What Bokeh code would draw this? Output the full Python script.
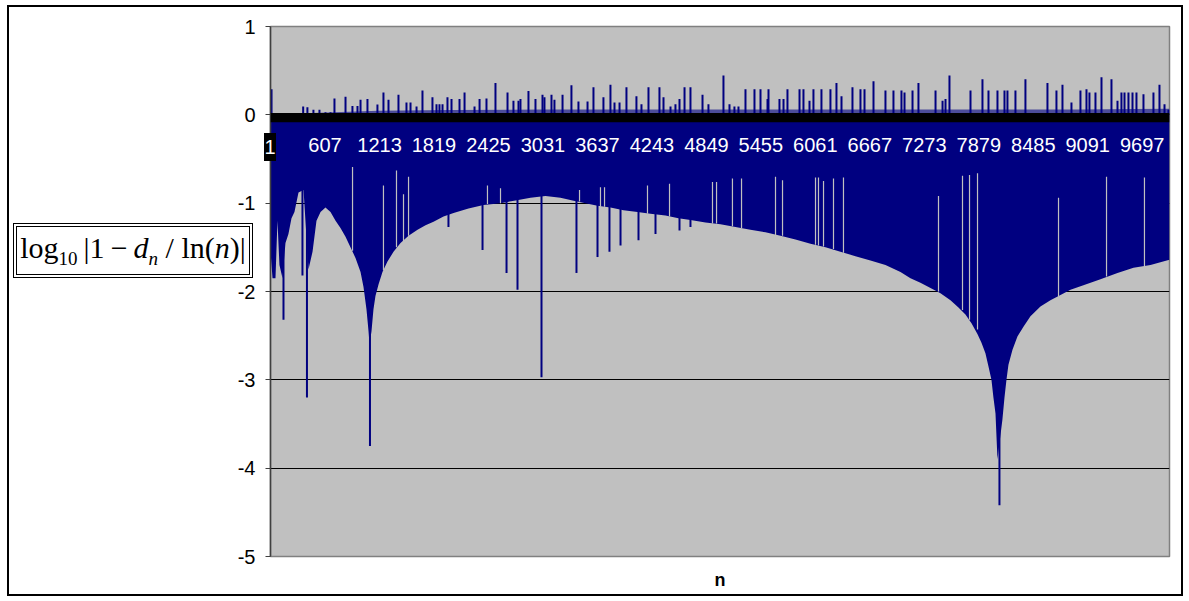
from bokeh.plotting import figure
from bokeh.models import Range1d, FixedTicker, BoxAnnotation, ColumnDataSource, Div
from bokeh.core.properties import value
from bokeh.embed import file_html
from bokeh.resources import INLINE

# ---------------- data ----------------
# category ticks on the x axis (n)
tick_n = [1, 607, 1213, 1819, 2425, 3031, 3637, 4243, 4849, 5455, 6061, 6667, 7273, 7879, 8485, 9091, 9697]
tick_labels = [str(t) for t in tick_n]
y_ticks = [-5, -4, -3, -2, -1, 0, 1]

# lower envelope of the dense band of negative columns
env_n = [1, 23, 56, 78, 100, 134, 167, 200, 234, 267, 312, 368, 423, 468, 512, 557, 612, 668, 724, 779,
         835, 890, 946, 1002, 1035, 1068, 1091, 1102, 1124, 1146, 1168, 1202, 1246, 1302, 1369, 1447, 1536,
         1636, 1725, 1814, 1925, 2037, 2203, 2370, 2559, 2726, 2893, 3059, 3226, 3360, 3504, 3638, 3782,
         3927, 4083, 4227, 4394, 4538, 4672, 4839, 5006, 5172, 5339, 5506, 5673, 5840, 6007, 6174, 6340,
         6507, 6674, 6841, 7008, 7119, 7230, 7342, 7453, 7564, 7653, 7731, 7798, 7864, 7909, 7953, 7987,
         8020, 8042, 8065, 8087, 8142, 8165, 8187, 8209, 8254, 8309, 8376, 8454, 8565, 8676, 8788, 8899,
         9043, 9233, 9422, 9600, 9789, 10000]
env_v = [-1.55, -1.85, -1.85, -1.20, -1.70, -1.85, -1.45, -1.35, -1.17, -1.10, -0.88, -0.85, -1.75, -1.55,
         -1.20, -1.10, -1.05, -1.10, -1.20, -1.28, -1.38, -1.50, -1.62, -1.78, -1.95, -2.20, -2.45, -2.60,
         -2.45, -2.20, -2.05, -1.92, -1.78, -1.66, -1.55, -1.45, -1.37, -1.30, -1.25, -1.21, -1.15, -1.11,
         -1.06, -1.02, -1.00, -0.97, -0.94, -0.92, -0.94, -0.97, -1.00, -1.03, -1.05, -1.08, -1.10, -1.12,
         -1.14, -1.17, -1.19, -1.22, -1.24, -1.27, -1.30, -1.33, -1.37, -1.41, -1.46, -1.50, -1.55, -1.60,
         -1.65, -1.70, -1.78, -1.85, -1.90, -1.96, -2.02, -2.10, -2.18, -2.26, -2.36, -2.48, -2.58, -2.70,
         -2.85, -3.00, -3.20, -3.38, -3.90, -3.45, -3.20, -3.00, -2.83, -2.66, -2.51, -2.40, -2.28, -2.17,
         -2.10, -2.04, -1.98, -1.93, -1.86, -1.79, -1.73, -1.70, -1.64]

# isolated deep negative columns
down_n = [145, 356, 406, 1107, 1980, 2359, 2626, 2748, 3015, 3404, 3638, 3771, 3894, 4094, 4283, 4550, 4672, 8109]
down_v = [-2.32, -1.82, -3.20, -3.75, -1.27, -1.53, -1.79, -1.98, -2.97, -1.79, -1.61, -1.55, -1.48, -1.42,
          -1.35, -1.31, -1.27, -4.42]

# columns where the band is shallower (gaps): top of gap and bottom of gap
gap_n = [913, 1257, 1402, 1480, 1536, 2414, 2559, 3438, 3671, 3716, 4194, 4439, 4917, 4962, 5139, 5240,
         5618, 5696, 6063, 6096, 6152, 6263, 6374, 7431, 7698, 7776, 7865, 8766, 9300, 9722]
gap_top = [-0.59, -0.80, -0.63, -0.90, -0.70, -0.80, -0.83, -0.85, -0.82, -0.82, -0.80, -0.78, -0.76, -0.76,
           -0.72, -0.72, -0.70, -0.74, -0.71, -0.71, -0.75, -0.72, -0.71, -0.92, -0.69, -0.68, -0.66, -0.94,
           -0.70, -0.71]
gap_bot = [-1.54, -1.76, -1.50, -1.43, -1.37, -1.01, -1.00, -0.98, -1.04, -1.04, -1.12, -1.15, -1.23, -1.23,
           -1.26, -1.28, -1.36, -1.37, -1.47, -1.48, -1.49, -1.52, -1.56, -2.00, -2.21, -2.32, -2.43, -2.06,
           -1.83, -1.71]

# typical height of the dense small positive columns just above the axis
fringe_n = [1, 300, 700, 1200, 2000, 3000, 4000, 5000, 6000, 7000, 8000, 9000, 9600, 10000]
fringe_v = [0.0, 0.015, 0.03, 0.045, 0.055, 0.06, 0.06, 0.06, 0.06, 0.06, 0.06, 0.06, 0.065, 0.07]

# tall positive columns
up_n = [12, 364, 411, 478, 545, 612, 668, 712, 835, 912, 968, 1002, 1079, 1190, 1257, 1313, 1424, 1513, 1558,
        1625, 1691, 1802, 1847, 1880, 1914, 1969, 2014, 2103, 2159, 2270, 2326, 2403, 2503, 2637, 2703, 2759,
        2781, 2870, 2948, 3026, 3048, 3126, 3159, 3249, 3348, 3426, 3527, 3593, 3704, 3782, 3827, 3883, 3960,
        4071, 4127, 4205, 4327, 4372, 4450, 4505, 4550, 4606, 4672, 4806, 4872, 5039, 5106, 5161, 5206, 5284,
        5384, 5451, 5529, 5540, 5662, 5707, 5751, 5885, 5929, 5996, 6040, 6129, 6229, 6296, 6352, 6474, 6563,
        6608, 6708, 6841, 6930, 7019, 7053, 7142, 7208, 7398, 7476, 7509, 7553, 7787, 7920, 7987, 8087, 8165,
        8198, 8287, 8398, 8643, 8743, 8810, 8910, 9010, 9077, 9110, 9177, 9244, 9355, 9422, 9466, 9500, 9544,
        9589, 9633, 9711, 9822, 9889, 9945, 9989]
up_v = [0.29, 0.094, 0.087, 0.057, 0.057, 0.03, 0.03, 0.185, 0.204, 0.10, 0.10, 0.17, 0.18, 0.117, 0.253,
        0.17, 0.226, 0.14, 0.14, 0.094, 0.275, 0.20, 0.12, 0.12, 0.12, 0.20, 0.18, 0.18, 0.253, 0.094, 0.18,
        0.185, 0.36, 0.253, 0.16, 0.16, 0.18, 0.27, 0.18, 0.226, 0.20, 0.226, 0.17, 0.226, 0.336, 0.15, 0.15,
        0.313, 0.20, 0.34, 0.14, 0.14, 0.313, 0.21, 0.12, 0.313, 0.313, 0.20, 0.094, 0.12, 0.18, 0.313,
        0.313, 0.226, 0.12, 0.445, 0.12, 0.094, 0.094, 0.29, 0.29, 0.29, 0.18, 0.29, 0.18, 0.18, 0.29, 0.29,
        0.29, 0.16, 0.29, 0.29, 0.29, 0.36, 0.21, 0.313, 0.29, 0.29, 0.38, 0.275, 0.275, 0.275, 0.253,
        0.275, 0.36, 0.275, 0.16, 0.18, 0.445, 0.275, 0.404, 0.275, 0.275, 0.275, 0.275, 0.275, 0.404,
        0.36, 0.275, 0.34, 0.14, 0.275, 0.29, 0.253, 0.253, 0.426, 0.404, 0.16, 0.253, 0.253, 0.253, 0.253,
        0.253, 0.234, 0.253, 0.34, 0.12, 0.057]

NAVY = "#000080"
GRAY = "#C0C0C0"

# ---------------- figure ----------------
p = figure(width=1176, height=591, output_backend="svg", toolbar_location=None,
           x_range=Range1d(0.5, 10000.5), y_range=Range1d(-5, 1),
           min_border_left=261, min_border_right=16, min_border_top=19, min_border_bottom=42)
p.styles = {"border": "2px solid black", "margin-left": "7px", "margin-top": "5px"}
p.background_fill_color = GRAY
p.border_fill_color = "white"
p.outline_line_color = "#808080"
p.outline_line_width = 1.5

p.xgrid.visible = False
p.ygrid.ticker = FixedTicker(ticks=y_ticks)
p.ygrid.grid_line_color = "black"
p.ygrid.grid_line_width = 1

ya = p.yaxis[0]
ya.ticker = FixedTicker(ticks=y_ticks)
ya.major_label_overrides = {t: str(t) for t in y_ticks}
ya.minor_tick_line_color = None
ya.major_tick_in = 0
ya.major_tick_out = 5
ya.axis_line_color = "#404040"
ya.axis_line_width = 1.5
ya.major_tick_line_color = "#404040"
ya.major_label_text_font = "Liberation Sans"
ya.major_label_text_font_size = "20px"
ya.major_label_text_color = "black"
ya.major_label_standoff = 10

xa = p.xaxis[0]
xa.ticker = FixedTicker(ticks=[])
xa.axis_line_color = None
xa.major_tick_line_color = None
xa.minor_tick_line_color = None
xa.axis_label = "n"
xa.axis_label_text_font = "Liberation Sans"
xa.axis_label_text_font_style = "bold"
xa.axis_label_text_font_size = "18px"
xa.axis_label_text_color = "black"
xa.axis_label_standoff = 13

# dense band of columns hanging from 0 down to the lower envelope
p.varea(x=env_n, y1=env_v, y2=[0] * len(env_n), fill_color=NAVY)
# dense small positive columns (comb just above the axis)
p.varea(x=fringe_n, y1=[0] * len(fringe_n), y2=fringe_v, fill_color=NAVY, fill_alpha=0.6)
# isolated deep columns
p.segment(x0=down_n, y0=[0] * len(down_n), x1=down_n, y1=down_v, line_color=NAVY, line_width=2)
# shallower columns (gaps in the band)
p.segment(x0=gap_n, y0=gap_top, x1=gap_n, y1=gap_bot, line_color=GRAY, line_width=1.2)
# tall positive columns
p.segment(x0=up_n, y0=[0] * len(up_n), x1=up_n, y1=up_v, line_color=NAVY, line_width=2)

# category axis crossing at 0 (dense black tick band)
p.add_layout(BoxAnnotation(top=0.02, bottom=-0.085, fill_color="black", fill_alpha=1, line_color=None))

# category labels drawn at the axis crossing
src = ColumnDataSource(dict(x=tick_n[1:], y=[-0.34] * (len(tick_n) - 1), t=tick_labels[1:]))
p.text(x="x", y="y", text="t", source=src, text_color="white", text_font=value("Liberation Sans"),
       text_font_size="20px", text_align="center", text_baseline="middle")

# first category label sits on a black box straddling the value axis
first_label = Div(text=(
    '<div style="width:12px;height:28px;background:black;color:white;'
    'font-family:\'Liberation Sans\';font-size:20px;line-height:28px;text-align:center;">'
    + tick_labels[0] + '</div>'),
    styles={"position": "absolute", "left": "264px", "top": "133px", "margin": "0", "padding": "0"})

# value-axis title: boxed formula
formula = Div(text=(
    '<div style="box-sizing:border-box;width:240px;height:55px;border:4px double black;'
    'display:flex;align-items:center;justify-content:center;background:white;'
    'font-family:\'Liberation Serif\';font-size:30px;color:black;white-space:nowrap;line-height:1;">'
    '<span>log<sub style="font-size:19px">10</sub>&thinsp;|1&thinsp;&minus;&thinsp;<i>d</i>'
    '<sub style="font-size:19px"><i>n</i></sub>&nbsp;/&nbsp;ln(<i>n</i>)|</span></div>'),
    styles={"position": "absolute", "left": "13px", "top": "223px", "margin": "0", "padding": "0"})

open("out.html", "w").write(file_html([p, formula, first_label], INLINE))
